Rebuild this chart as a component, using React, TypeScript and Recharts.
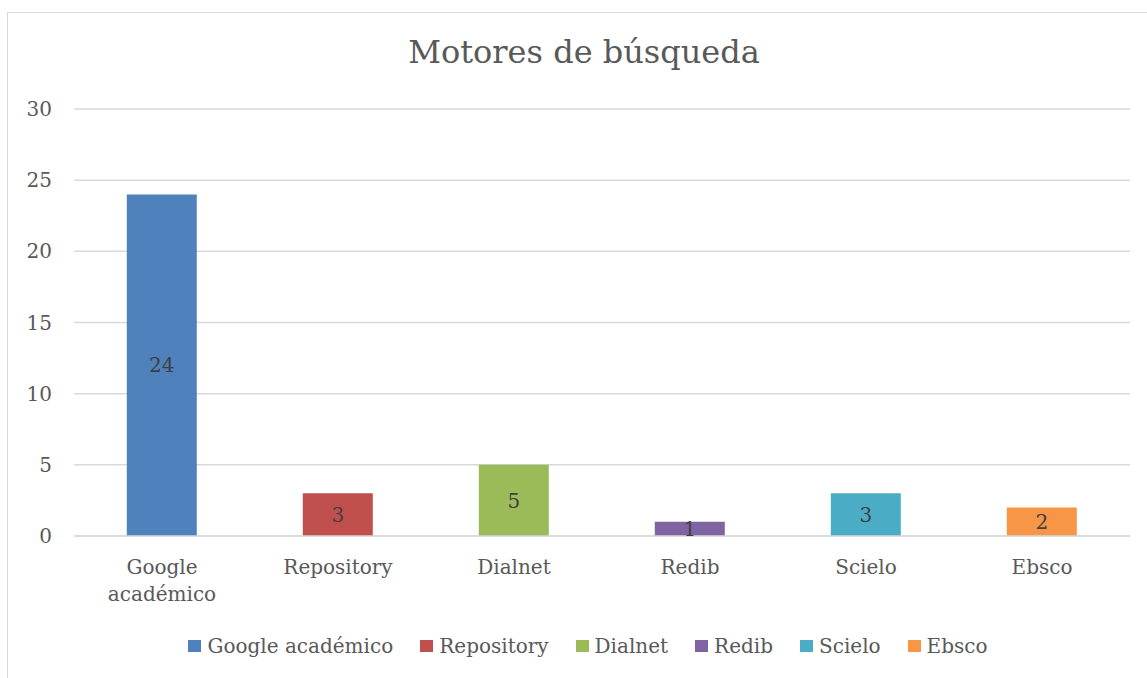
import React from "react";
import { BarChart, Bar, XAxis, YAxis, CartesianGrid, Legend, LabelList, Cell } from "recharts";

const categories = ["Google académico", "Repository", "Dialnet", "Redib", "Scielo", "Ebsco"];
const values = [24, 3, 5, 1, 3, 2];
const colors = ["#4F81BD", "#C0504D", "#9BBB59", "#8064A2", "#4BACC6", "#F79646"];
const yTicks = [0, 5, 10, 15, 20, 25, 30];
const title = "Motores de búsqueda";

const data = categories.map((name, i) => ({ name, value: values[i] }));

const FONT = "'DejaVu Serif', serif";
const TEXT = "#595959";

const XTick = (props: any) => {
  const { x, y, payload } = props;
  const label: string = payload.value;
  const lines = label.length > 12 ? label.split(" ") : [label];
  return (
    <text x={x} y={y} textAnchor="middle" fill={TEXT} fontFamily={FONT} fontSize={20}>
      {lines.map((l, i) => (
        <tspan key={i} x={x} dy={i === 0 ? 38 : 27}>
          {l}
        </tspan>
      ))}
    </text>
  );
};

const LegendContent = () => (
  <div
    style={{
      height: 30,
      display: "flex",
      justifyContent: "center",
      alignItems: "center",
      paddingLeft: 46,
      fontFamily: FONT,
      fontSize: 20,
      color: TEXT,
      boxSizing: "border-box",
    }}
  >
    {categories.map((c, i) => (
      <div key={c} style={{ display: "flex", alignItems: "center", marginRight: i < categories.length - 1 ? 27 : 0 }}>
        <span style={{ width: 13, height: 12, background: colors[i], display: "inline-block", marginRight: 6 }} />
        <span style={{ lineHeight: "30px" }}>{c}</span>
      </div>
    ))}
  </div>
);

export default function App() {
  return (
    <div style={{ position: "relative", width: 1147, height: 678, overflow: "hidden", background: "#fff" }}>
      <style>{`body{margin:0;overflow:hidden;}`}</style>
      <div
        style={{
          position: "absolute",
          left: 7,
          top: 12,
          width: 1200,
          height: 700,
          borderTop: "1px solid #D9D9D9",
          borderLeft: "1px solid #D9D9D9",
        }}
      />
      <div
        style={{
          position: "absolute",
          left: 0,
          width: 1168,
          top: 28,
          textAlign: "center",
          fontFamily: FONT,
          fontSize: 32,
          color: TEXT,
          lineHeight: "48px",
          whiteSpace: "nowrap",
        }}
      >
        {title}
      </div>
      <div style={{ position: "absolute", left: 0, top: 0 }}>
        <BarChart
          width={1147}
          height={678}
          data={data}
          margin={{ top: 109, right: 17, bottom: 0, left: 0 }}
          barCategoryGap="30%"
        >
          <CartesianGrid vertical={false} stroke="#D9D9D9" strokeWidth={1.5} />
          <XAxis
            dataKey="name"
            axisLine={{ stroke: "#D9D9D9", strokeWidth: 1.5 }}
            tickLine={false}
            tickSize={0}
            tickMargin={0}
            height={112}
            interval={0}
            tick={<XTick />}
          />
          <YAxis
            domain={[0, 30]}
            ticks={yTicks}
            axisLine={false}
            tickLine={false}
            tickSize={0}
            tickMargin={22}
            width={74}
            tick={{ fill: TEXT, fontFamily: FONT, fontSize: 20 }}
          />
          <Legend
            verticalAlign="bottom"
            content={<LegendContent />}
            wrapperStyle={{ bottom: 17, height: 30 }}
          />
          <Bar dataKey="value" isAnimationActive={false}>
            {data.map((d, i) => (
              <Cell key={d.name} fill={colors[i]} />
            ))}
            <LabelList dataKey="value" position="center" fill="#404040" fontFamily={FONT} fontSize={20} />
          </Bar>
        </BarChart>
      </div>
    </div>
  );
}
